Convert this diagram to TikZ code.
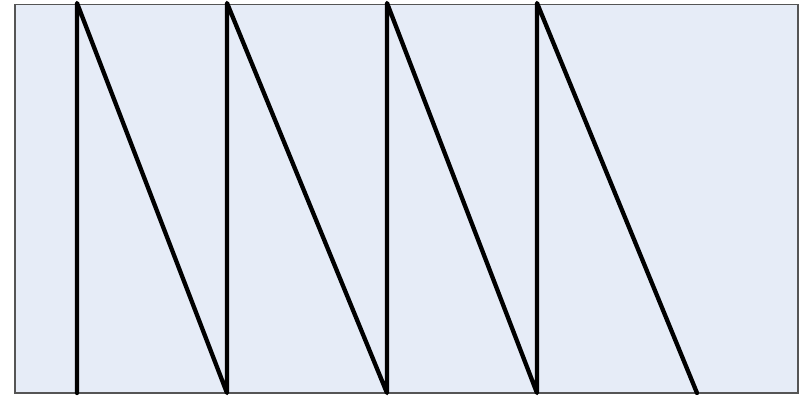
\documentclass[tikz,border=0pt]{standalone}
\definecolor{bgfill}{HTML}{E6ECF7}
\definecolor{frame}{HTML}{555555}
\tikzset{saw/.style={line width=4.3pt,black,line cap=round,line join=round}}
\begin{document}
\begin{tikzpicture}[x=1pt,y=-1pt]
\useasboundingbox (0,0) rectangle (808,396);
\draw[fill=bgfill,draw=frame,line width=1.2pt] (15,4.5) rectangle (798,393);
\coordinate (t1) at (77,3);
\coordinate (b1) at (77,393);
\coordinate (t2) at (227,3);
\coordinate (b2) at (227,393);
\coordinate (t3) at (387,3);
\coordinate (b3) at (387,393);
\coordinate (t4) at (537,3);
\coordinate (b4) at (537,393);
\coordinate (b5) at (697,393);
\draw[saw] (b1) -- (t1) -- (b2) -- (t2) -- (b3) -- (t3) -- (b4) -- (t4) -- (b5);
\end{tikzpicture}
\end{document}
